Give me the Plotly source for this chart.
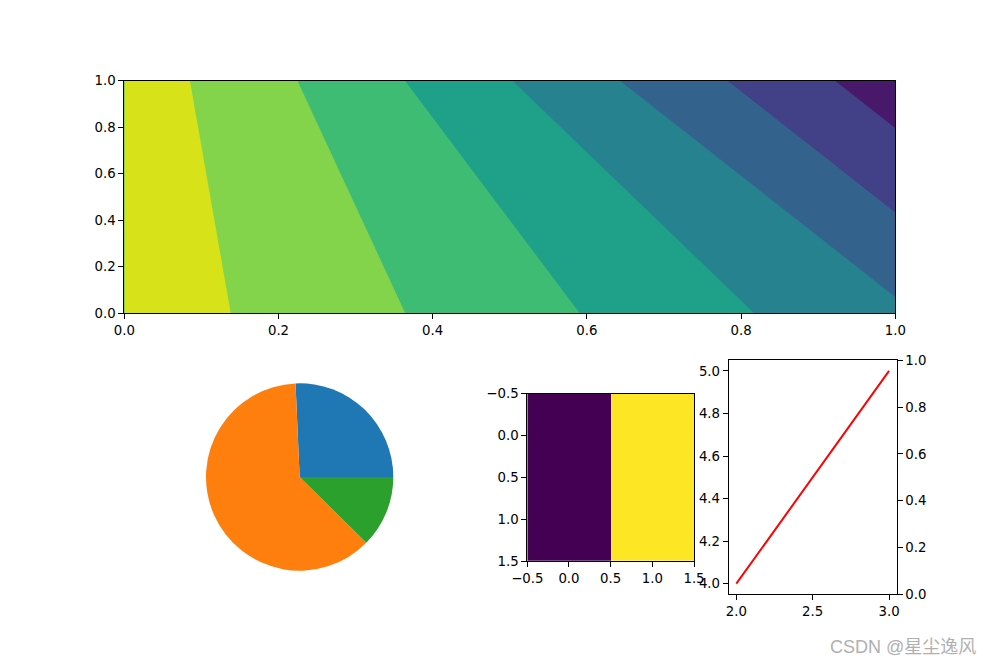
import plotly.graph_objects as go

W, H = 994, 667

# ---------------- data ----------------
# top panel: filled contour on a 2x2 grid
contour_x = [0, 1]
contour_y = [0, 1]
contour_z = [[7.61, 3.19],
             [7.61, 0.44]]
level_start, level_end, level_step = 1, 7, 1
band_colors = ['#48186a', '#424086', '#33638d', '#26828e',
               '#1fa088', '#3fbc73', '#84d44b', '#d8e219']
top_ticks = [0.0, 0.2, 0.4, 0.6, 0.8, 1.0]

# pie
pie_values = [0.257, 0.619, 0.124]
pie_colors = ['#1f77b4', '#ff7f0e', '#2ca02c']

# image (imshow of a 2x2 array)
img_x = [0, 1]
img_y = [0, 1]
img_z = [[0, 1],
         [0, 1]]
img_ticks = [-0.5, 0.0, 0.5, 1.0, 1.5]
img_ticktext = ['\u22120.5', '0.0', '0.5', '1.0', '1.5']

# line plot with twin y axis
line_x = [2, 3]
line_y = [4, 5]
line_xticks = [2.0, 2.5, 3.0]
line_yticks = [4.0, 4.2, 4.4, 4.6, 4.8, 5.0]
twin_yticks = [0.0, 0.2, 0.4, 0.6, 0.8, 1.0]

# ---------------- helpers ----------------
def px_x(a, b):
    return [a / W, b / W]

def px_y(top, bottom):
    return [1 - bottom / H, 1 - top / H]

FONT = dict(family='DejaVu Sans', size=13.3, color='black')
axis_style = dict(showline=True, linecolor='black', linewidth=1, mirror=True,
                  ticks='outside', ticklen=5, tickwidth=1, tickcolor='black',
                  showgrid=False, zeroline=False, tickfont=FONT, automargin=False)

n = len(band_colors)
colorscale = [[i / (n - 1), c] for i, c in enumerate(band_colors)]

fig = go.Figure()

fig.add_trace(go.Contour(
    x=contour_x, y=contour_y, z=contour_z,
    autocontour=False,
    contours=dict(start=level_start, end=level_end, size=level_step,
                  coloring='fill', showlines=False),
    line=dict(width=0, smoothing=0),
    colorscale=colorscale, showscale=False,
    xaxis='x', yaxis='y', hoverinfo='skip'))

# matplotlib starts the first wedge at 3 o'clock, counterclockwise
first_frac = pie_values[0] / sum(pie_values)
fig.add_trace(go.Pie(
    values=pie_values, marker=dict(colors=pie_colors, line=dict(width=0)),
    sort=False, direction='counterclockwise', rotation=90 - 360 * first_frac,
    textinfo='none', hoverinfo='skip', showlegend=False,
    domain=dict(x=px_x(206, 393.3), y=px_y(383.3, 570.7))))

fig.add_trace(go.Heatmap(
    x=img_x, y=img_y, z=img_z,
    colorscale=[[0, '#440154'], [1, '#fde725']], showscale=False,
    xaxis='x2', yaxis='y2', hoverinfo='skip'))

fig.add_trace(go.Scatter(
    x=line_x, y=line_y, mode='lines', line=dict(color='red', width=2),
    xaxis='x3', yaxis='y3', showlegend=False, hoverinfo='skip'))

# empty companion trace so the twin (right) axis is drawn
fig.add_trace(go.Scatter(
    x=line_x, y=[None] * len(line_x), mode='lines',
    xaxis='x3', yaxis='y4', showlegend=False, hoverinfo='skip'))

fig.update_layout(
    template='none',
    width=W, height=H, margin=dict(l=0, r=0, t=0, b=0, autoexpand=False),
    paper_bgcolor='white', plot_bgcolor='white', showlegend=False,
    xaxis=dict(axis_style, domain=px_x(124.3, 895.3), range=[0, 1], anchor='y',
               tickvals=top_ticks, tickformat='.1f'),
    yaxis=dict(axis_style, domain=px_y(80.7, 313), range=[0, 1], anchor='x',
               tickvals=top_ticks, tickformat='.1f'),
    xaxis2=dict(axis_style, domain=px_x(527.3, 694), range=[-0.5, 1.5], anchor='y2',
                tickvals=img_ticks, ticktext=img_ticktext),
    yaxis2=dict(axis_style, domain=px_y(393.7, 561), range=[1.5, -0.5], anchor='x2',
                tickvals=img_ticks, ticktext=img_ticktext),
    xaxis3=dict(axis_style, domain=px_x(728.7, 896.7), range=[1.95, 3.05], anchor='y3',
                tickvals=line_xticks, tickformat='.1f'),
    yaxis3=dict(axis_style, domain=px_y(360.3, 594.3), range=[3.95, 5.05], anchor='x3',
                tickvals=line_yticks, tickformat='.1f'),
    yaxis4=dict(axis_style, domain=px_y(360.3, 594.3), range=[0, 1], anchor='x3',
                overlaying='y3', side='right', mirror=False,
                tickvals=twin_yticks, tickformat='.1f'),
)

fig.add_annotation(
    text='CSDN @星尘逸风', xref='paper', yref='paper',
    x=978 / W, y=1 - 647 / H, xanchor='right', yanchor='middle', showarrow=False,
    font=dict(family='Liberation Sans, Noto Sans CJK SC, sans-serif', size=18, color='#b0b0b0'))

fig.write_html('out.html', config={'displayModeBar': False},
               post_script="document.body.style.margin='0';document.body.style.padding='0';")
